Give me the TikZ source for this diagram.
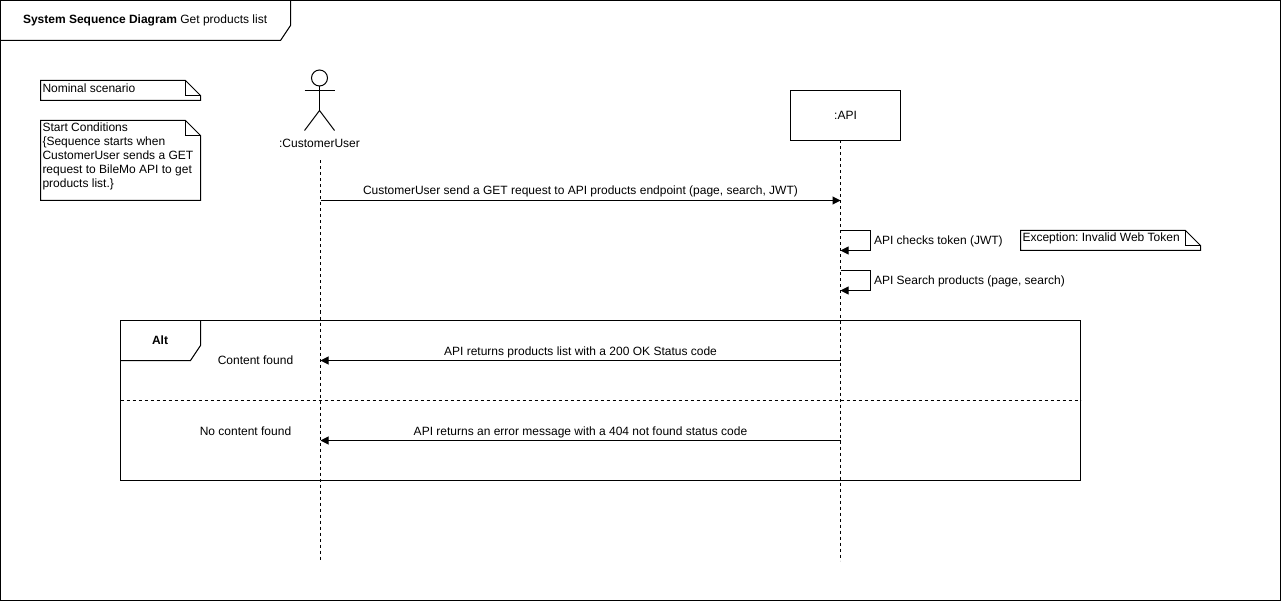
\documentclass[tikz,border=0pt]{standalone}
\usepackage{fontspec}
\setmainfont{Liberation Sans}
\frenchspacing
\usetikzlibrary{arrows.meta}
\tikzset{
  x=1pt,y=-1pt,
  every node/.style={inner sep=0pt,outer sep=0pt,font=\fontsize{12}{14}\selectfont},
  ln/.style={draw=black,line width=1pt},
  life/.style={draw=black,line width=1pt,dash pattern=on 3pt off 3pt},
  msg/.style={draw=black,line width=1pt,-{Triangle[length=8pt,width=8pt]}},
  lbl/.style={anchor=center,fill=white,inner xsep=0pt,inner ysep=1pt},
  txt/.style={anchor=west,align=left},
}
\newcommand{\notefold}[4]{% x1,y1,x2,y2
  \draw[ln,fill=white] (#1,#2) -- (#3-15,#2) -- (#3,#2+15) -- (#3,#4) -- (#1,#4) -- cycle;
  \draw[ln] (#3-15,#2) -- (#3-15,#2+15) -- (#3,#2+15);
}
\begin{document}
\begin{tikzpicture}
\useasboundingbox (0,0) rectangle (1281,601);
\draw[ln] (0.5,0.5) rectangle (1280.5,600.5);
\draw[ln] (0.5,40.5) -- (280.5,40.5) -- (290.5,25.5) -- (290.5,0.5);
\node[txt] (title) at (23,20.5) {\textbf{System Sequence Diagram} Get products list};

\notefold{40.5}{80.5}{200.5}{100.5}
\node[txt] (nominal) at (42.5,88) {Nominal scenario};
\notefold{40.5}{120.5}{200.5}{200.5}
\node[anchor=north west,align=left,font=\fontsize{12}{14}\selectfont] (start) at (42.5,123) {Start Conditions\\\{Sequence starts when\\CustomerUser sends a GET\\request to BileMo API to get\\products list.\}};
\notefold{1020.5}{230.5}{1200.5}{250.5}
\node[txt] (exc) at (1022.5,238.5) {Exception: Invalid Web Token};

% actor
\draw[ln] (319.5,78) circle[radius=8];
\draw[ln] (319.5,86) -- (319.5,110.5);
\draw[ln] (304.5,90.5) -- (334.5,90.5);
\draw[ln] (304.5,130.5) -- (319.5,110.5) -- (334.5,130.5);
\node (customerlabel) at (319.5,143.5) {:CustomerUser};

\node[draw=black,line width=1pt,minimum width=110pt,minimum height=50pt,anchor=north west] (api) at (790.5,90.5) {:API};

\coordinate (cutop) at (320.5,160.5);
\coordinate (cubot) at (320.5,560.5);
\coordinate (apitop) at (840.5,140.5);
\coordinate (apibot) at (840.5,560.5);
\draw[life] (cutop) -- (cubot);
\draw[life] (apitop) -- (apibot);

% alt frame
\draw[ln] (120.5,320.5) rectangle (1080.5,480.5);
\draw[ln] (120.5,360.5) -- (190.5,360.5) -- (200.5,345.5) -- (200.5,320.5);
\node (alt) at (160,340.5) {\textbf{Alt}};
\draw[ln,dash pattern=on 3pt off 3pt] (120.5,400.5) -- (1080.5,400.5);
\node (found) at (255.5,360.5) {Content found};
\node (notfound) at (245.5,431) {No content found};

% messages
\coordinate (m1a) at (320.5,200.5);
\coordinate (m1b) at (840.5,200.5);
\draw[msg] (m1a) -- (m1b);
\node[lbl] (m1) at (580.5,191.5) {CustomerUser send a GET request to API products endpoint (page, search, JWT)};

\coordinate (s1a) at (840.5,230.5);
\coordinate (s1b) at (840.5,250.5);
\draw[msg] (s1a) -- (870.5,230.5) -- (870.5,250.5) -- (s1b);
\node[txt] (s1) at (874,241.5) {API checks token (JWT)};

\coordinate (s2a) at (840.5,270.5);
\coordinate (s2b) at (840.5,290.5);
\draw[msg] (s2a) -- (870.5,270.5) -- (870.5,290.5) -- (s2b);
\node[txt] (s2) at (874,281.5) {API Search products (page, search)};

\coordinate (r1a) at (840.5,360.5);
\coordinate (r1b) at (320.5,360.5);
\draw[msg] (r1a) -- (r1b);
\node[lbl] (r1) at (580.5,352) {API returns products list with a 200 OK Status code};

\coordinate (r2a) at (840.5,440.5);
\coordinate (r2b) at (320.5,440.5);
\draw[msg] (r2a) -- (r2b);
\node[lbl] (r2) at (580.5,432) {API returns an error message with a 404 not found status code};
\end{tikzpicture}
\end{document}
